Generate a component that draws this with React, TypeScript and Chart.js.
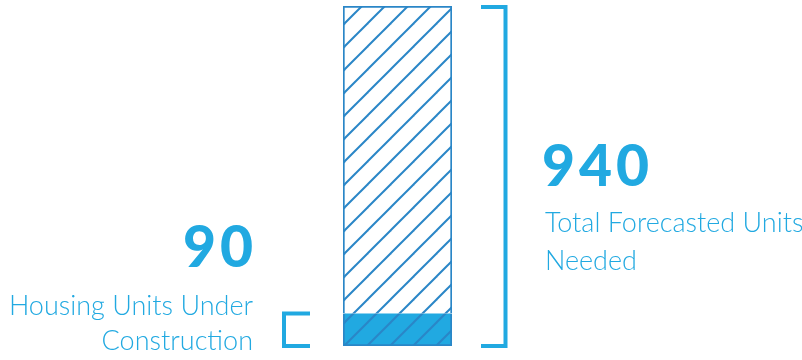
import React, { useEffect, useRef } from "react";
import { Chart, registerables } from "chart.js";
Chart.register(...registerables);

const categories = ["Housing"];
const underConstruction = [90];
const totalForecasted = [940];
const remainingNeeded = totalForecasted.map((t, i) => t - underConstruction[i]);
const totalLabel = "940";
const totalText = ["Total Forecasted Units", "Needed"];
const constructionLabel = "90";
const constructionText = ["Housing Units Under", "Construction"];

const BLUE = "#21a9e1";
const DARK = "#2a86c7";

function makePattern(bg: string) {
  const s = 23;
  const c = document.createElement("canvas");
  c.width = s;
  c.height = s;
  const g = c.getContext("2d")!;
  if (bg) {
    g.fillStyle = bg;
    g.fillRect(0, 0, s, s);
  }
  g.strokeStyle = DARK;
  g.lineWidth = 2;
  for (const o of [-s, 0, s]) {
    g.beginPath();
    g.moveTo(o - 2, s + 2);
    g.lineTo(o + s + 2, -2);
    g.stroke();
  }
  return g.createPattern(c, "repeat")!;
}

export default function App() {
  const ref = useRef<HTMLCanvasElement>(null);
  useEffect(() => {
    document.body.style.margin = "0";
    const ctx = ref.current!.getContext("2d")!;
    const annot = {
      id: "annot",
      afterDraw(chart: any) {
        const c = chart.ctx;
        const y = chart.scales.y;
        const area = chart.chartArea;
        const yTot = y.getPixelForValue(totalForecasted[0]);
        const y0 = y.getPixelForValue(0);
        const yCon = y.getPixelForValue(underConstruction[0]);
        c.save();
        c.strokeStyle = BLUE;
        c.lineWidth = 4;
        c.lineCap = "butt";
        c.lineJoin = "miter";
        // right bracket
        const rx0 = area.right + 29;
        const rxv = area.right + 53.5;
        c.beginPath();
        c.moveTo(rx0, yTot + 1);
        c.lineTo(rxv, yTot + 1);
        c.lineTo(rxv, y0);
        c.lineTo(rx0, y0);
        c.stroke();
        // left bracket
        const lx0 = area.left - 33;
        const lxv = area.left - 59;
        c.beginPath();
        c.moveTo(lx0, yCon);
        c.lineTo(lxv, yCon);
        c.lineTo(lxv, y0);
        c.lineTo(lx0, y0);
        c.stroke();

        c.fillStyle = BLUE;
        c.textBaseline = "alphabetic";
        // right texts
        c.textAlign = "left";
        c.font = "900 57px Lato";
        (c as any).letterSpacing = "4px";
        c.fillText(totalLabel, area.right + 90, 186);
        (c as any).letterSpacing = "0px";
        c.font = "300 27px Lato";
        c.fillText(totalText[0], area.right + 93, 232);
        c.fillText(totalText[1], area.right + 93, 270);
        // left texts
        c.textAlign = "right";
        c.font = "900 57px Lato";
        (c as any).letterSpacing = "4px";
        c.fillText(constructionLabel, area.left - 86, 267);
        (c as any).letterSpacing = "0px";
        c.font = "300 27px Lato";
        c.fillText(constructionText[0], area.left - 90, 315);
        c.fillText(constructionText[1], area.left - 90, 350);
        c.restore();
      },
    };
    const chart = new Chart(ctx, {
      type: "bar",
      data: {
        labels: categories,
        datasets: [
          {
            data: underConstruction,
            backgroundColor: makePattern(BLUE),
            borderColor: DARK,
            borderWidth: { left: 2, right: 2, bottom: 2, top: 0 },
            borderSkipped: false,
          },
          {
            data: remainingNeeded,
            backgroundColor: makePattern("#ffffff"),
            borderColor: DARK,
            borderWidth: { left: 2, right: 2, top: 2, bottom: 0 },
            borderSkipped: false,
          },
        ],
      },
      options: {
        animation: false,
        responsive: false,
        layout: { padding: { left: 343, right: 802 - 452, top: 6, bottom: 14 } },
        plugins: { legend: { display: false }, tooltip: { enabled: false } },
        scales: {
          x: { display: false, stacked: true },
          y: { display: false, stacked: true, min: 0, max: totalForecasted[0] },
        },
        datasets: { bar: { barPercentage: 1, categoryPercentage: 1 } },
      },
      plugins: [annot],
    });
    return () => chart.destroy();
  }, []);
  return (
    <div style={{ position: "absolute", left: 0, top: 0, width: 802, height: 360 }}>
      <canvas ref={ref} width={802} height={360} style={{ width: 802, height: 360, display: "block" }} />
    </div>
  );
}
